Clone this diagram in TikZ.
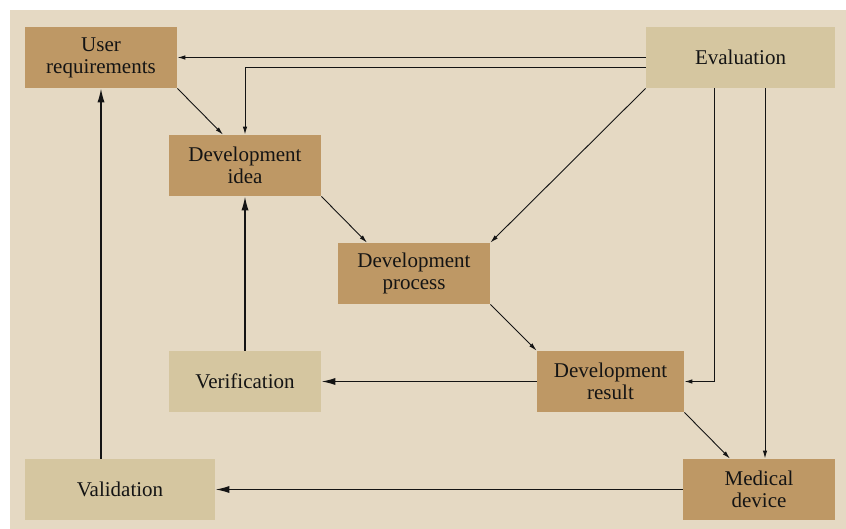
\documentclass[tikz,border=0pt]{standalone}
\usepackage{fontspec}
\setmainfont{Liberation Serif}
\usetikzlibrary{arrows.meta}
\definecolor{panelbg}{RGB}{229,217,195}
\definecolor{boxdark}{RGB}{190,152,101}
\definecolor{boxlight}{RGB}{213,198,160}
\definecolor{ink}{RGB}{20,20,20}
\tikzset{
  box/.style={minimum width=76pt, minimum height=30.5pt, inner sep=0pt,
    align=center, text=ink, font=\fontsize{10.5}{11}\selectfont},
  darkbox/.style={box, fill=boxdark},
  lightbox/.style={box, fill=boxlight},
  thinarrow/.style={draw=ink, line width=0.45pt, -{Latex[length=4pt,width=2.2pt]}},
  thickarrow/.style={draw=ink, line width=0.75pt, -{Latex[length=7pt,width=3.6pt]}}
}
\begin{document}
\begin{tikzpicture}[x=0.5pt, y=-0.5pt]
  \useasboundingbox (0,0) rectangle (846,529);
  \fill[panelbg] (10,10) rectangle (846,529);

  % boxes
  \node[darkbox] (ureq) at (101,57.5) {User\\requirements};
  \node[darkbox] (idea) at (245,165.5) {Development\\idea};
  \node[darkbox] (proc) at (414,273.5) {Development\\process};
  \node[lightbox] (verif) at (245,381.5) {Verification};
  \node[darkbox, minimum width=73.5pt] (result) at (610.5,381.5) {Development\\result};
  \node[darkbox] (med) at (759,489.5) {Medical\\device};
  \node[lightbox, minimum width=95pt] (valid) at (120,489.5) {Validation};
  \node[lightbox, minimum width=94.5pt] (eval) at (740.5,57.5) {Evaluation};

  % evaluation feeds every stage
  \draw[thinarrow] (eval.west) -- (ureq.east);
  \draw[thinarrow] ([yshift=-4.75pt]eval.west) -| (idea.north);
  \draw[thinarrow] (eval.south west) -- (proc.north east);
  \draw[thinarrow] ([xshift=-13.25pt]eval.south) |- (result.east);
  \coordinate (evmed) at ([xshift=12.25pt]eval.south);
  \draw[thinarrow] (evmed) -- (evmed |- med.north);

  % forward development chain
  \draw[thinarrow] (ureq.south east) -- ([xshift=-11pt]idea.north);
  \draw[thinarrow] (idea.south east) -- ([xshift=-23.5pt]proc.north);
  \draw[thinarrow] (proc.south east) -- (result.north west);
  \draw[thinarrow] (result.south east) -- ([xshift=-14.5pt]med.north);

  % verification and validation loops
  \draw[thickarrow] (result.west) -- (verif.east);
  \draw[thickarrow] (verif.north) -- (idea.south);
  \draw[thickarrow] (med.west) -- (valid.east);
  \draw[thickarrow] (ureq.south |- valid.north) -- (ureq.south);
\end{tikzpicture}
\end{document}
